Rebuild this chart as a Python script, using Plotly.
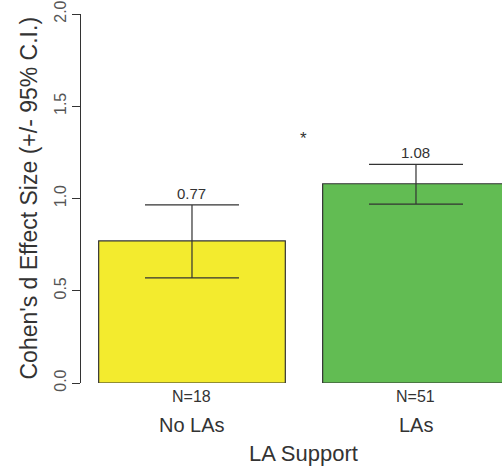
import plotly.graph_objects as go

categories = ["No LAs", "LAs"]
effect_sizes = [0.77, 1.08]
ci_lower = [0.57, 0.97]
ci_upper = [0.965, 1.185]
n_labels = ["N=18", "N=51"]
value_labels = ["0.77", "1.08"]
bar_colors = ["#F3EB2E", "#62BC53"]
y_ticks = [0.0, 0.5, 1.0, 1.5, 2.0]
y_tick_labels = ["0.0", "0.5", "1.0", "1.5", "2.0"]

xpos = list(range(len(categories)))
err_plus = [u - v for u, v in zip(ci_upper, effect_sizes)]
err_minus = [v - l for v, l in zip(effect_sizes, ci_lower)]

FONT = "Liberation Sans, Arial, sans-serif"
TXT = "#333333"

fig = go.Figure()
fig.add_trace(go.Bar(
    x=xpos, y=effect_sizes, width=1/1.2,
    marker=dict(color=bar_colors, line=dict(color="#333333", width=1.2)),
    error_y=dict(type="data", symmetric=False, array=err_plus, arrayminus=err_minus,
                 color="#333333", thickness=1.2, width=47),
    hoverinfo="skip",
))

annotations = []
for i in xpos:
    annotations.append(dict(x=i, y=ci_upper[i], xref="x", yref="y", text=value_labels[i],
                            showarrow=False, yanchor="bottom", yshift=1,
                            font=dict(size=15, color=TXT, family=FONT)))
    annotations.append(dict(x=i, y=0, xref="x", yref="y", text=n_labels[i],
                            showarrow=False, yanchor="middle", yshift=-13,
                            font=dict(size=16, color=TXT, family=FONT)))
    annotations.append(dict(x=i, y=0, xref="x", yref="y", text=categories[i],
                            showarrow=False, yanchor="middle", yshift=-42,
                            font=dict(size=20, color=TXT, family=FONT)))
annotations.append(dict(x=0.5, y=0, xref="x", yref="y", text="LA Support",
                        showarrow=False, yanchor="middle", yshift=-70,
                        font=dict(size=22, color=TXT, family=FONT)))
annotations.append(dict(x=0.5, y=1.323, xref="x", yref="y", text="*",
                        showarrow=False, yanchor="middle",
                        font=dict(size=17, color=TXT, family=FONT)))
annotations.append(dict(x=-53/421, y=0.5, xref="paper", yref="paper",
                        text="Cohen's d Effect Size (+/- 95% C.I.)",
                        textangle=-90, showarrow=False, xanchor="center", yanchor="middle",
                        font=dict(size=23, color=TXT, family=FONT)))

fig.update_layout(
    width=502, height=468,
    margin=dict(l=81, r=0, t=14, b=85, pad=0),
    paper_bgcolor="white", plot_bgcolor="white",
    showlegend=False,
    annotations=annotations,
    xaxis=dict(range=[-0.4955, 1.384], showticklabels=False, showgrid=False,
               zeroline=False, showline=False, ticks=""),
    yaxis=dict(range=[0, 2], tickvals=y_ticks, ticktext=y_tick_labels,
               tickangle=-90, ticks="outside", ticklen=8, tickcolor="#333333",
               tickwidth=1.2, showline=True, linecolor="#333333", linewidth=1.2,
               showgrid=False, zeroline=False,
               tickfont=dict(size=16, color="#555555", family=FONT)),
)

fig.write_html("out.html", config={"displayModeBar": False},
               post_script="document.body.style.margin='0';document.body.style.overflow='hidden';")
